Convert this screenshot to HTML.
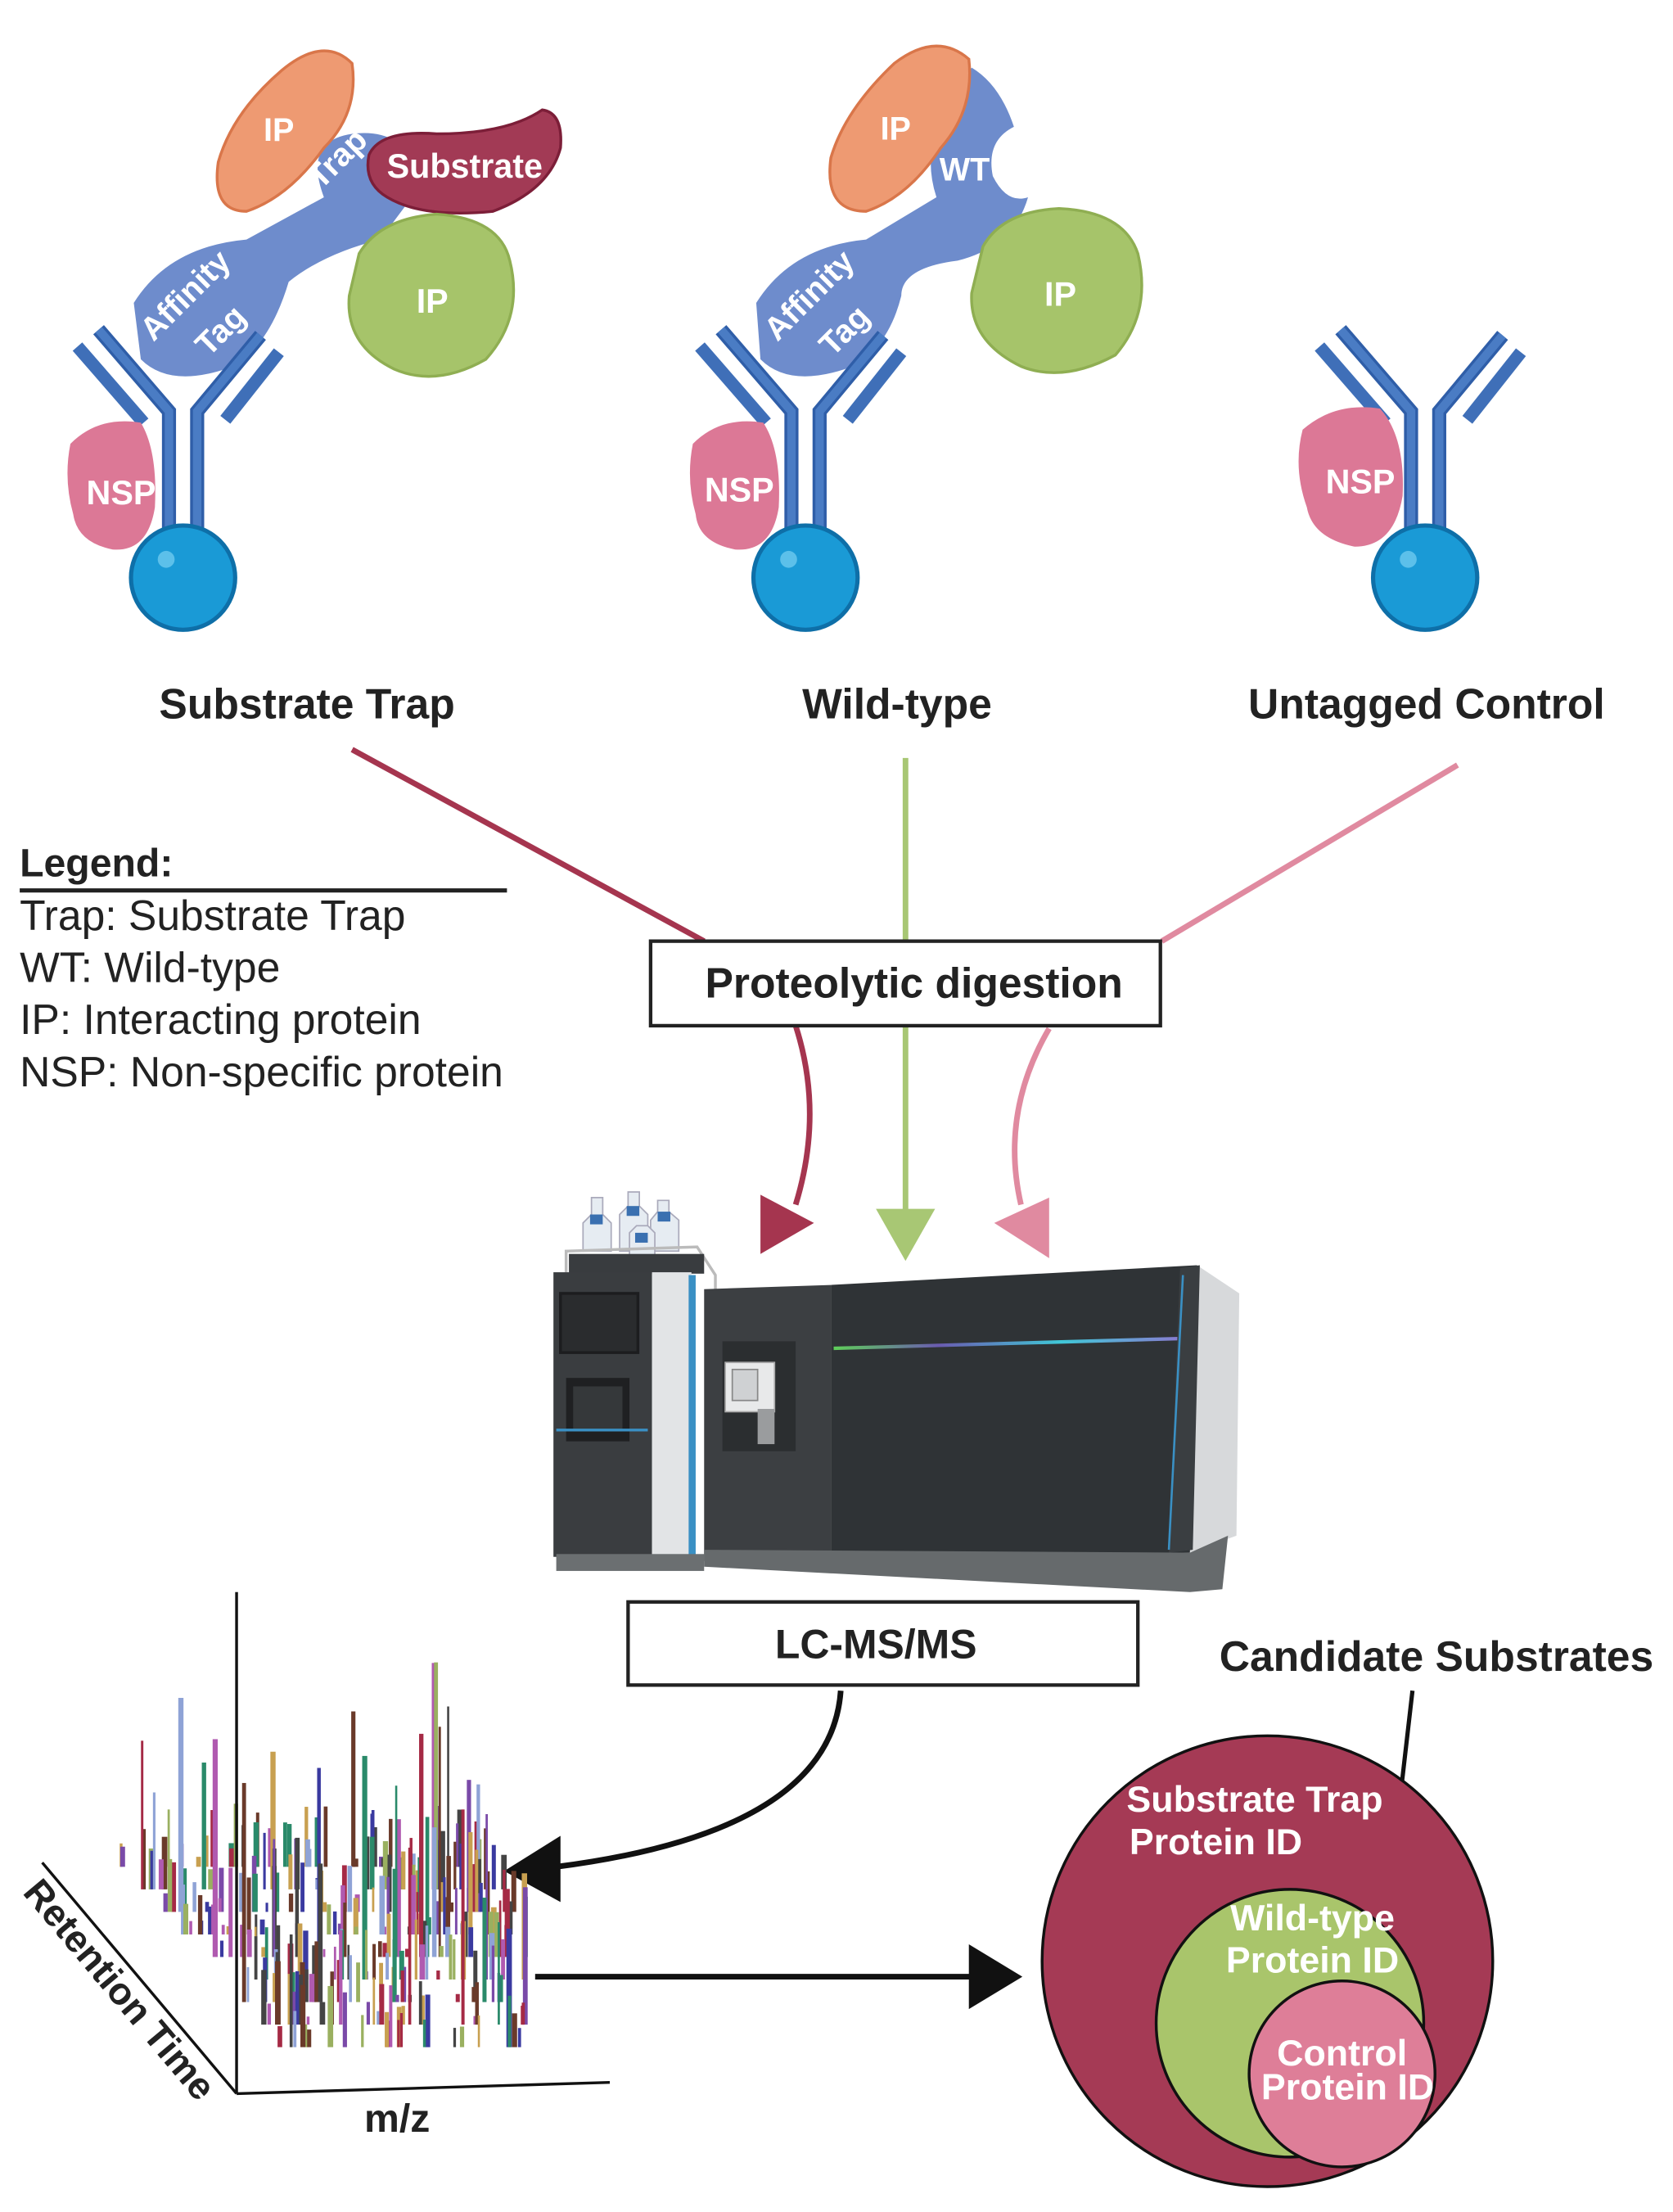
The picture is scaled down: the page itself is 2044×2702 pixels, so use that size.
<!DOCTYPE html>
<html><head><meta charset="utf-8"><style>
html,body{margin:0;padding:0;background:#fff}
svg{display:block}
text{font-family:"Liberation Sans",Arial,sans-serif}
</style></head><body>
<svg id="s" width="2044" height="2702" viewBox="0 0 1188 1570" preserveAspectRatio="none" xmlns="http://www.w3.org/2000/svg">
<defs>
<g id="ab">
  <polyline points="-10,385 -10,292 -60,234" fill="none" stroke="#2f5ea8" stroke-width="10"/>
  <polyline points="10,385 10,292 55,238" fill="none" stroke="#2f5ea8" stroke-width="10"/>
  <polyline points="-10,385 -10,292 -60,234" fill="none" stroke="#4a7cc4" stroke-width="6"/>
  <polyline points="10,385 10,292 55,238" fill="none" stroke="#4a7cc4" stroke-width="6"/>
  <line x1="-75" y1="246" x2="-28" y2="300" stroke="#3f6fb8" stroke-width="9"/>
  <line x1="68" y1="250" x2="30" y2="298" stroke="#3f6fb8" stroke-width="9"/>
  <circle cx="0" cy="410" r="37" fill="#1a9ad6" stroke="#0e6fa8" stroke-width="3"/>
  <circle cx="-12" cy="397" r="6" fill="#5cc0ea"/>
</g>
<linearGradient id="lg" x1="0" x2="1"><stop offset="0" stop-color="#5fcf5a"/><stop offset=".3" stop-color="#6a5bb0"/><stop offset=".65" stop-color="#40c8d8"/><stop offset="1" stop-color="#8a7ad0"/></linearGradient>
</defs>

<!-- Substrate trap -->
<g>
<path d="M95,215 Q120,175 175,170 L230,140 Q215,100 250,95 Q290,90 300,130 L270,170 Q230,180 205,200 Q190,250 160,262 Q120,275 100,255 Z" fill="#6e8ccc"/>
<use href="#ab" x="130" y="0"/>
<path d="M155,115 Q165,80 200,50 Q230,25 250,45 Q255,80 230,105 Q205,140 175,150 Q150,150 155,115 Z" fill="#ee9a72" stroke="#d9764a" stroke-width="2"/>
<path d="M262,110 Q270,92 310,95 Q360,95 385,78 Q400,80 398,105 Q390,135 350,150 Q300,155 275,140 Q258,130 262,110Z" fill="#a23a55" stroke="#7c1e38" stroke-width="2"/>
<path d="M255,180 Q270,155 310,152 Q355,155 362,185 Q372,225 345,255 Q310,275 280,262 Q245,245 248,210 Z" fill="#a6c46a" stroke="#8fae52" stroke-width="2"/>
<path d="M50,315 Q70,295 100,300 Q112,320 110,360 Q105,392 80,390 Q55,385 52,365 Q45,340 50,315Z" fill="#dc7896"/>
<text x="198" y="100" fill="#fff" font-weight="bold" font-size="23" text-anchor="middle">IP</text>
<text x="330" y="126" fill="#fff" font-weight="bold" font-size="24" text-anchor="middle">Substrate</text>
<text x="307" y="222" fill="#fff" font-weight="bold" font-size="24" text-anchor="middle">IP</text>
<text x="86" y="358" fill="#fff" font-weight="bold" font-size="24" text-anchor="middle">NSP</text>
<text transform="translate(245,118) rotate(-45)" fill="#fff" font-weight="bold" font-size="23" text-anchor="middle">Trap</text>
<text transform="translate(137,215) rotate(-45)" fill="#fff" font-weight="bold" font-size="23" text-anchor="middle">Affinity</text>
<text transform="translate(162,240) rotate(-45)" fill="#fff" font-weight="bold" font-size="23" text-anchor="middle">Tag</text>
</g>

<!-- Wild-type -->
<g>
<path d="M537,215 Q562,175 615,170 L665,140 Q650,95 690,48 Q710,60 720,90 Q700,100 705,125 Q715,145 730,140 Q720,175 680,185 Q640,190 640,210 Q630,250 600,262 Q560,275 540,255 Z" fill="#6e8ccc"/>
<use href="#ab" x="572" y="0"/>
<path d="M590,112 Q600,78 635,45 Q665,22 688,42 Q692,78 668,105 Q645,140 615,150 Q585,150 590,112 Z" fill="#ee9a72" stroke="#d9764a" stroke-width="2"/>
<path d="M698,175 Q712,150 752,148 Q798,150 808,180 Q818,222 792,252 Q755,272 725,260 Q688,242 690,208 Z" fill="#a6c46a" stroke="#8fae52" stroke-width="2"/>
<path d="M492,315 Q512,295 542,300 Q555,320 553,360 Q548,392 522,390 Q496,385 494,365 Q487,340 492,315Z" fill="#dc7896"/>
<text x="636" y="99" fill="#fff" font-weight="bold" font-size="23" text-anchor="middle">IP</text>
<text x="685" y="128" fill="#fff" font-weight="bold" font-size="23" text-anchor="middle">WT</text>
<text x="753" y="217" fill="#fff" font-weight="bold" font-size="24" text-anchor="middle">IP</text>
<text x="525" y="356" fill="#fff" font-weight="bold" font-size="24" text-anchor="middle">NSP</text>
<text transform="translate(580,215) rotate(-45)" fill="#fff" font-weight="bold" font-size="23" text-anchor="middle">Affinity</text>
<text transform="translate(605,240) rotate(-45)" fill="#fff" font-weight="bold" font-size="23" text-anchor="middle">Tag</text>
</g>

<!-- Untagged -->
<g>
<use href="#ab" x="1012" y="0"/>
<path d="M925,305 Q948,285 980,290 Q998,310 996,352 Q990,388 962,388 Q932,382 928,360 Q918,332 925,305Z" fill="#dc7896"/>
<text x="966" y="350" fill="#fff" font-weight="bold" font-size="24" text-anchor="middle">NSP</text>
</g>

<text x="218" y="510" font-weight="bold" font-size="30" text-anchor="middle" fill="#222">Substrate Trap</text>
<text x="637" y="510" font-weight="bold" font-size="30" text-anchor="middle" fill="#222">Wild-type</text>
<text x="1013" y="510" font-weight="bold" font-size="30" text-anchor="middle" fill="#222">Untagged Control</text>

<!-- connectors -->
<line x1="250" y1="532" x2="500" y2="668" stroke="#a5354f" stroke-width="4"/>
<path d="M565,728 Q585,790 565,855" fill="none" stroke="#a5354f" stroke-width="4"/>
<polygon points="540,848 578,868 540,890" fill="#a5354f"/>
<line x1="643" y1="538" x2="643" y2="860" stroke="#a8c774" stroke-width="4"/>
<polygon points="622,858 664,858 643,895" fill="#a8c774"/>
<line x1="1035" y1="543" x2="825" y2="668" stroke="#e08aa0" stroke-width="4"/>
<path d="M745,730 Q710,790 725,855" fill="none" stroke="#e08aa0" stroke-width="4"/>
<polygon points="745,850 745,893 706,868" fill="#e08aa0"/>

<rect x="462" y="668" width="362" height="60" fill="#fff" stroke="#222" stroke-width="2.5"/>
<text x="649" y="708" font-weight="bold" font-size="30" text-anchor="middle" fill="#222">Proteolytic digestion</text>

<!-- legend -->
<text x="14" y="622" font-weight="bold" font-size="28" fill="#222">Legend:</text>
<line x1="14" y1="632" x2="360" y2="632" stroke="#222" stroke-width="3"/>
<g font-size="30" fill="#222">
<text x="14" y="660">Trap: Substrate Trap</text>
<text x="14" y="697">WT: Wild-type</text>
<text x="14" y="734">IP: Interacting protein</text>
<text x="14" y="771">NSP: Non-specific protein</text>
</g>

<!-- instrument -->
<g>
<path d="M414,888 L414,868 L420,862 L420,850 L428,850 L428,862 L434,868 L434,888Z" fill="#e6ecf2" stroke="#aab" stroke-width="1"/>
<path d="M440,888 L440,862 L446,856 L446,846 L454,846 L454,856 L460,862 L460,888Z" fill="#e6ecf2" stroke="#aab" stroke-width="1"/>
<path d="M462,888 L462,866 L467,860 L467,852 L475,852 L475,860 L482,866 L482,888Z" fill="#e6ecf2" stroke="#aab" stroke-width="1"/>
<path d="M447,895 L447,875 L452,870 L460,870 L465,875 L465,895Z" fill="#e6ecf2" stroke="#aab" stroke-width="1"/>
<rect x="419" y="862" width="9" height="7" fill="#3a70b0"/><rect x="445" y="856" width="9" height="7" fill="#3a70b0"/><rect x="467" y="860" width="9" height="7" fill="#3a70b0"/><rect x="451" y="875" width="9" height="7" fill="#3a70b0"/>
<path d="M402,903 L402,888 L495,885 L508,905 L508,915" fill="none" stroke="#bbb" stroke-width="2"/>
<rect x="404" y="890" width="96" height="14" fill="#393c3f"/>
<rect x="393" y="903" width="70" height="202" fill="#3a3d40"/>
<rect x="398" y="918" width="55" height="42" fill="#2a2c2e" stroke="#1c1d1f" stroke-width="2"/>
<rect x="402" y="978" width="45" height="45" fill="#1f2022"/><rect x="407" y="984" width="35" height="32" fill="#35383a"/>
<rect x="463" y="903" width="28" height="202" fill="#e2e4e6"/>
<rect x="489" y="905" width="5" height="200" fill="#3a90c4"/>
<line x1="395" y1="1015" x2="460" y2="1015" stroke="#3a90c4" stroke-width="2"/>
<rect x="395" y="1103" width="105" height="12" fill="#6b6f71"/>
<polygon points="500,915 590,912 590,1112 500,1108" fill="#3c3f42"/>
<rect x="513" y="952" width="52" height="78" fill="#2b2e30"/>
<rect x="515" y="967" width="35" height="35" fill="#e8e9ea" stroke="#aaa"/>
<rect x="520" y="972" width="18" height="22" fill="#cfd1d3" stroke="#888"/>
<rect x="538" y="1000" width="12" height="25" fill="#9a9c9e"/>
<polygon points="590,912 850,898 845,1102 590,1112" fill="#2f3336"/>
<line x1="592" y1="957" x2="840" y2="950" stroke="url(#lg)" stroke-width="2.5"/>
<polygon points="850,898 880,918 878,1090 845,1102" fill="#d7d9db"/>
<polygon points="838,900 852,898 847,1100 830,1102" fill="#3a3e41"/>
<line x1="840" y1="905" x2="830" y2="1100" stroke="#3a90c4" stroke-width="1.5"/>
<polygon points="500,1100 845,1102 872,1090 868,1128 845,1130 500,1112" fill="#666a6c"/>
</g>

<rect x="446" y="1137" width="362" height="59" fill="#fff" stroke="#222" stroke-width="2.5"/>
<text x="622" y="1177" font-weight="bold" font-size="29" text-anchor="middle" fill="#222">LC-MS/MS</text>

<path d="M597,1200 Q590,1300 395,1325" fill="none" stroke="#111" stroke-width="4"/>
<polygon points="358,1328 398,1303 398,1350" fill="#111"/>

<!-- spectrum -->
<g id="spec"></g>
<line x1="168" y1="1130" x2="168" y2="1486" stroke="#111" stroke-width="2"/>
<line x1="168" y1="1486" x2="433" y2="1478" stroke="#111" stroke-width="2"/>
<line x1="30" y1="1322" x2="168" y2="1486" stroke="#111" stroke-width="2"/>
<text transform="translate(78,1418) rotate(50)" font-weight="bold" font-size="27" text-anchor="middle" fill="#222">Retention Time</text>
<text x="282" y="1513" font-weight="bold" font-size="28" text-anchor="middle" fill="#222">m/z</text>

<line x1="380" y1="1403" x2="690" y2="1403" stroke="#111" stroke-width="4"/>
<polygon points="688,1380 726,1403 688,1426" fill="#111"/>

<!-- venn -->
<text x="1020" y="1186" font-weight="bold" font-size="30" text-anchor="middle" fill="#222">Candidate Substrates</text>
<line x1="1003" y1="1200" x2="993" y2="1287" stroke="#111" stroke-width="3"/>
<circle cx="900" cy="1392" r="160" fill="#a53a55" stroke="#111" stroke-width="2"/>
<circle cx="916" cy="1436" r="95" fill="#a9c56b" stroke="#111" stroke-width="2"/>
<circle cx="953" cy="1472" r="66" fill="#de7e98" stroke="#111" stroke-width="2"/>
<g font-weight="bold" font-size="26" fill="#fff">
<text x="800" y="1286">Substrate Trap</text>
<text x="802" y="1316">Protein ID</text>
<text x="932" y="1370" text-anchor="middle">Wild-type</text>
<text x="932" y="1400" text-anchor="middle">Protein ID</text>
<text x="953" y="1466" text-anchor="middle">Control</text>
<text x="957" y="1490" text-anchor="middle">Protein ID</text>
</g>
</svg>
<script>
(function(){
var g=document.getElementById('spec');var seed=7;
function r(){seed=(seed*16807)%2147483647;return seed/2147483647;}
var cols=['#8fa3d6','#6a3a2a','#a52a45','#3a3aa0','#7a4aa8','#2a8a6a','#b05ab0','#c8a050','#9ab060','#444'];
for(var row=0;row<9;row++){
 var by=1325+row*16, x0=85+row*14;
 for(var i=0;i<40;i++){
  var x=x0+r()*260; if(x>372)continue;
  var h=r()<0.15?60+r()*110:5+r()*40;
  var el=document.createElementNS('http://www.w3.org/2000/svg','rect');
  el.setAttribute('x',x.toFixed(1));el.setAttribute('y',(by-h).toFixed(1));
  el.setAttribute('width',(1.5+r()*2.5).toFixed(1));el.setAttribute('height',h.toFixed(1));
  el.setAttribute('fill',cols[Math.floor(r()*cols.length)]);g.appendChild(el);
 }
}
})();
</script>
</body></html>
